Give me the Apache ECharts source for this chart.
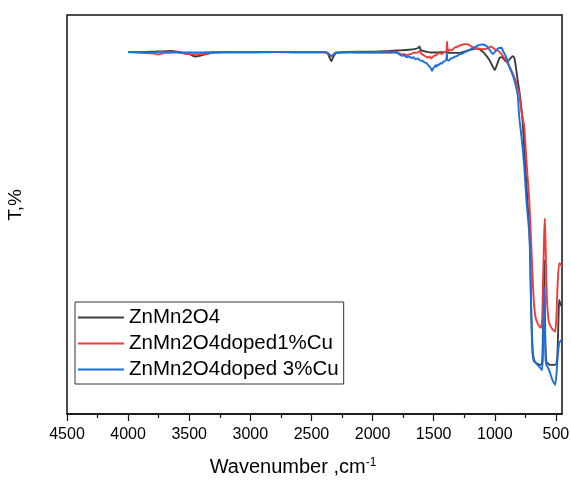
<!DOCTYPE html>
<html>
<head>
<meta charset="utf-8">
<script src="https://cdn.jsdelivr.net/npm/echarts@6/dist/echarts.min.js"></script>
<style>html,body{margin:0;padding:0;background:#fff;}#c{width:571px;height:480px;}</style>
</head>
<body>
<div id="c"></div>
<script>
const seriesNames = ['ZnMn2O4', 'ZnMn2O4doped1%Cu', 'ZnMn2O4doped 3%Cu'];
const majorTicks = [4500, 4000, 3500, 3000, 2500, 2000, 1500, 1000, 500];
const minorTicks = [4250, 3750, 3250, 2750, 2250, 1750, 1250, 750];

const pureZnMn2O4 = [
  [4000,90.7],[3900,90.7],[3800,90.8],[3700,90.9],[3650,91.0],[3600,90.8],[3500,90.2],[3450,89.6],[3400,89.9],[3350,90.3],[3300,90.6],[3200,90.7],[3000,90.7],[2800,90.7],[2600,90.7],[2400,90.7],[2370,90.5],[2350,89.2],[2337,88.4],[2325,89.3],[2300,90.4],[2250,90.7],[2100,90.8],[2000,90.8],[1900,90.9],[1800,91.1],[1700,91.3],[1650,91.5],[1625,91.8],[1616,92.1],[1605,91.2],[1590,91.0],[1560,90.8],[1520,90.6],[1480,90.6],[1420,90.7],[1390,90.6],[1340,90.5],[1290,90.5],[1240,90.9],[1208,91.2],[1153,91.6],[1120,91.3],[1085,90.4],[1045,88.8],[1020,87.3],[1000,86.2],[985,87.3],[960,89.3],[940,89.4],[915,88.5],[895,88.4],[870,89.2],[854,89.7],[840,89.2],[825,86.5],[813,83.7],[800,81.2],[785,77.5],[773,73.7],[750,62],[730,52],[718,46.9],[710,40],[704,28.6],[697,20],[691,15.3],[680,13.3],[663,12.8],[636,12.4],[622,12.3],[612,13],[605,22],[600,32],[596,38.6],[592,30],[586,18],[578,13],[569,12.8],[550,12.3],[514,12.3],[495,12.6],[486,16],[478,25],[473,28.6],[465,27.8],[452,26.9]
];

const doped1Cu = [
  [4000,90.7],[3900,90.5],[3800,90.4],[3755,90.1],[3700,90.5],[3600,90.6],[3500,90.2],[3450,90.1],[3350,90.3],[3300,90.6],[3200,90.6],[3000,90.6],[2800,90.7],[2600,90.6],[2400,90.6],[2370,90.5],[2337,89.7],[2300,90.5],[2200,90.6],[2000,90.5],[1900,90.5],[1800,90.6],[1780,90.4],[1760,90.1],[1740,90.2],[1720,89.9],[1700,90.1],[1680,90.3],[1660,90.6],[1640,90.5],[1616,90.9],[1600,90.3],[1585,90.0],[1565,89.6],[1550,89.3],[1535,89.6],[1520,89.1],[1508,89.5],[1495,89.8],[1480,89.9],[1465,90.3],[1450,90.5],[1435,90.2],[1420,90.6],[1405,90.7],[1396,91.0],[1390,93.3],[1385,90.9],[1370,91.3],[1350,91.2],[1330,91.8],[1310,92.0],[1290,92.3],[1262,92.6],[1235,92.7],[1210,92.5],[1181,91.9],[1140,91.6],[1100,91.4],[1070,91.5],[1040,92.0],[1030,92.1],[1000,91.4],[963,90.8],[930,89.6],[895,87.9],[860,85.8],[826,83.2],[800,80.2],[780,75.5],[759,72],[740,63],[718,53.6],[705,45],[694,36.9],[684,30],[677,26.9],[665,24],[650,22.8],[636,22],[622,21.6],[612,24],[604,35],[596,45],[590,49.0],[584,42],[578,33],[573,28.6],[565,25],[555,22.8],[530,21.3],[506,20.6],[495,25],[485,33],[473,37.8],[460,37.5],[452,36.9]
];

const doped3Cu = [
  [4000,90.7],[3900,90.7],[3800,90.7],[3700,90.8],[3600,90.7],[3500,90.6],[3400,90.6],[3300,90.7],[3200,90.7],[3000,90.7],[2800,90.7],[2600,90.7],[2400,90.7],[2370,90.6],[2337,89.7],[2300,90.6],[2200,90.7],[2000,90.7],[1900,90.8],[1800,90.6],[1780,90.1],[1760,89.8],[1740,89.9],[1720,89.4],[1700,89.6],[1680,89.2],[1665,89.4],[1650,88.9],[1630,89.1],[1610,88.6],[1590,88.5],[1575,88.1],[1560,88.0],[1545,87.4],[1530,87.0],[1520,86.4],[1512,86.0],[1505,86.6],[1495,86.9],[1485,87.4],[1475,87.1],[1465,87.6],[1455,87.5],[1445,88.0],[1435,87.8],[1420,88.3],[1405,88.5],[1396,88.9],[1392,90.6],[1388,88.7],[1375,88.6],[1360,89.1],[1346,89.2],[1330,89.5],[1310,89.7],[1290,90.1],[1260,90.4],[1235,90.8],[1180,91.7],[1126,92.5],[1100,92.6],[1071,92.3],[1040,91.2],[1017,90.2],[995,90.9],[970,91.7],[945,91.8],[930,90.8],[915,90.0],[895,88.5],[881,87.0],[860,85.5],[840,83.7],[813,80],[800,74.5],[780,69],[759,62.0],[740,53],[718,45.4],[710,38],[704,28.6],[697,21],[691,16.9],[684,14.5],[677,13.5],[660,12.6],[636,11.9],[614,11.0],[606,15],[600,26],[596,31.9],[592,25],[585,14],[578,12.3],[569,11.9],[550,10.5],[528,8.5],[515,7.8],[506,7.3],[495,10],[485,14.5],[473,17.7],[462,18.3],[452,18.5]
];

const colors = ['#3d3d3d', '#ef3b3b', '#1b6fe0'];
const FONT = 'Liberation Sans, Arial, sans-serif';
const chart = echarts.init(document.getElementById('c'), null, {renderer: 'canvas'});
const mk = (name, data, color) => ({
  name, type: 'line', data, xAxisIndex: 0, yAxisIndex: 0,
  showSymbol: false, symbol: 'none', smooth: 0.2,
  lineStyle: {color, width: 1.9}, itemStyle: {color}, z: 3
});
chart.setOption({
  animation: false,
  backgroundColor: '#fff',
  grid: {left: 67, right: 9, top: 15, bottom: 66, containLabel: false, outerBoundsMode: 'none',
    show: true, borderColor: '#111', borderWidth: 1.5, backgroundColor: 'transparent'},
  legend: {
    orient: 'vertical', left: 75, top: 302,
    data: seriesNames,
    icon: 'rect', itemWidth: 46, itemHeight: 2, itemGap: 5,
    padding: [5, 5, 4, 3],
    borderColor: '#333', borderWidth: 1,
    textStyle: {fontFamily: FONT, fontSize: 20.5, color: '#000', lineHeight: 20}
  },
  xAxis: [{
    type: 'value', inverse: true, min: 450, max: 4500,
    name: 'Wavenumber ,cm{sup|-1}', nameLocation: 'middle', nameGap: 43,
    nameTextStyle: {fontFamily: FONT, fontSize: 20, color: '#000', padding: [0, 43, 0, 0],
      rich: {sup: {fontSize: 12, verticalAlign: 'top', padding: [0,0,9,0], fontFamily: FONT, color:'#000'}}},
    axisLine: {show: true, lineStyle: {color: '#111', width: 1.5}},
    axisTick: {show: true, inside: false, length: 7, lineStyle: {color: '#111', width: 1.2}, customValues: majorTicks},
    axisLabel: {show: true, customValues: majorTicks, margin: 13, fontFamily: FONT, fontSize: 16, color: '#000',
      formatter: v => String(v)},
    splitLine: {show: false}
  }, {
    type: 'value', inverse: true, min: 450, max: 4500, position: 'bottom', gridIndex: 0,
    axisLine: {show: false},
    axisTick: {show: true, inside: false, length: 4, lineStyle: {color: '#111', width: 1.2}, customValues: minorTicks},
    axisLabel: {show: false},
    splitLine: {show: false}
  }],
  yAxis: {
    type: 'value', min: 0, max: 100,
    name: 'T,%', nameLocation: 'middle', nameGap: 42,
    nameTextStyle: {fontFamily: FONT, fontSize: 19, color: '#000', padding: [0, 0, 0, 19]},
    axisLine: {show: false}, axisTick: {show: false}, axisLabel: {show: false}, splitLine: {show: false}
  },
  series: [
    mk(seriesNames[0], pureZnMn2O4, colors[0]),
    mk(seriesNames[1], doped1Cu, colors[1]),
    mk(seriesNames[2], doped3Cu, colors[2])
  ]
});
</script>
</body>
</html>
